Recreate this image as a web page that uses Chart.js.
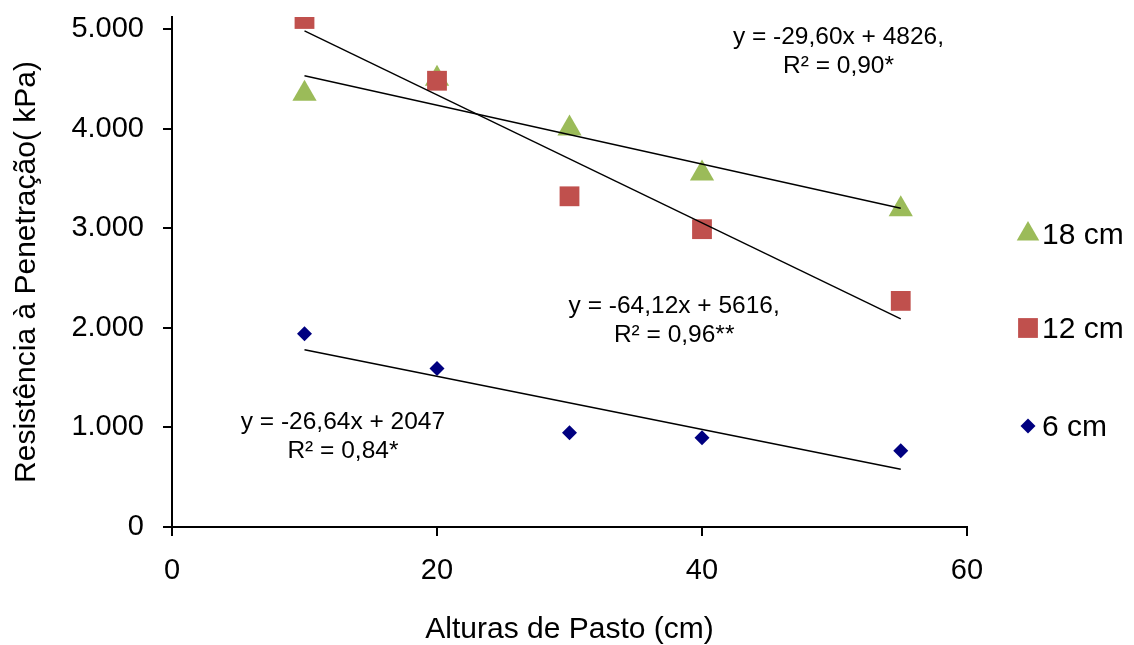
<!DOCTYPE html>
<html>
<head>
<meta charset="utf-8">
<script src="https://cdn.jsdelivr.net/npm/chart.js@4.4.0/dist/chart.umd.min.js"></script>
<style>
  html, body { margin: 0; padding: 0; background: #fff; }
  #wrap { width: 1134px; height: 645px; }
</style>
</head>
<body>
<div id="wrap"><canvas id="chart"></canvas></div>
<script>
// Values.
const alturas = [10, 20, 30, 40, 55];
const rp6 = [1940, 1590, 945, 895, 765];
const rp12 = [5100, 4480, 3320, 2990, 2270];
const rp18 = [4350, 4500, 4000, 3550, 3190];
const trendX = [10, 55];
const trend6 = [1780, 580];
const trend12 = [4980, 2090];
const trend18 = [4530, 3200];
const xTicks = [0, 20, 40, 60];
const yTicks = [0, 1000, 2000, 3000, 4000, 5000];
const equations = [
  ['y = -29,60x + 4826,', 'R² = 0,90*'],
  ['y = -64,12x + 5616,', 'R² = 0,96**'],
  ['y = -26,64x + 2047', 'R² = 0,84*'],
];

// Where the equation text sits (data coords of first line centre).
const equationAnchors = [[50.3, 4920], [37.9, 2219], [12.9, 1054]];

const FONT = '"Liberation Sans", Arial, sans-serif';
const GREEN = '#9BBB59';
const RED = '#C0504D';
const NAVY = '#000080';

const legendItems = [
  {text: '18 cm', style: 'triangle', radius: 13, color: GREEN, dy: 217},
  {text: '12 cm', style: 'rect', radius: 14, color: RED, dy: 311},
  {text: '6 cm', style: 'rectRot', radius: 7.5, color: NAVY, dy: 409},
];

const fmt = (v) => String(v).replace(/\B(?=(\d{3})+(?!\d))/g, '.');

const trendDataset = (vals) => ({
  data: trendX.map((x, i) => ({x, y: vals[i]})),
  showLine: true,
  borderColor: '#000',
  borderWidth: 1.4,
  pointRadius: 0,
  fill: false,
});

const pointDataset = (label, vals, style, radius, color) => ({
  label,
  data: alturas.map((x, i) => ({x, y: vals[i]})),
  pointStyle: style,
  pointRadius: radius,
  backgroundColor: color,
  borderColor: color,
  borderWidth: 0,
  showLine: false,
});

const equationPlugin = {
  id: 'equations',
  afterDatasetsDraw(chart) {
    const {ctx, scales: {x, y}} = chart;
    ctx.save();
    ctx.font = `24.5px ${FONT}`;
    ctx.fillStyle = '#000';
    ctx.textAlign = 'center';
    ctx.textBaseline = 'middle';
    equations.forEach((lines, i) => {
      const [ax, ay] = equationAnchors[i];
      lines.forEach((line, j) => {
        ctx.fillText(line, x.getPixelForValue(ax), y.getPixelForValue(ay) + j * 29);
      });
    });
    ctx.restore();
  },
};

const sideLegendPlugin = {
  id: 'sideLegend',
  afterDraw(chart) {
    const {ctx, chartArea} = chart;
    ctx.save();
    ctx.font = `30px ${FONT}`;
    ctx.textAlign = 'left';
    ctx.textBaseline = 'middle';
    legendItems.forEach(item => {
      const cy = chartArea.top + item.dy;
      ctx.fillStyle = item.color;
      Chart.helpers.drawPoint(ctx, {pointStyle: item.style, radius: item.radius, rotation: 0, borderWidth: 0}, chartArea.right + 61, cy);
      ctx.fillStyle = '#000';
      ctx.fillText(item.text, chartArea.right + 75, cy + 2);
    });
    ctx.restore();
  },
};

// keep the plot box where the figure has it, labels may hang over
const noScalePadding = (s) => {
  s.paddingTop = 0;
  s.paddingBottom = 0;
  s.paddingLeft = 0;
  s.paddingRight = 0;
};

const axisGrid = {drawOnChartArea: false, drawTicks: true, tickLength: 9, color: '#000', lineWidth: 2};
const axisBorder = {display: true, color: '#000', width: 2};

new Chart(document.getElementById('chart'), {
  type: 'scatter',
  data: {
    datasets: [
      trendDataset(trend6),
      trendDataset(trend12),
      trendDataset(trend18),
      pointDataset('6 cm', rp6, 'rectRot', 7.5, NAVY),
      pointDataset('12 cm', rp12, 'rect', 14, RED),
      pointDataset('18 cm', rp18, 'triangle', 14, GREEN),
    ],
  },
  options: {
    responsive: true,
    maintainAspectRatio: false,
    animation: false,
    events: [],
    layout: {padding: {left: 8, top: 17, right: 167, bottom: 0}},
    plugins: {legend: {display: false}, tooltip: {enabled: false}},
    scales: {
      x: {
        type: 'linear',
        min: 0,
        max: 60,
        afterBuildTicks: (s) => { s.ticks = xTicks.map(v => ({value: v})); },
        afterFit: (s) => { s.height = 118; noScalePadding(s); },
        grid: axisGrid,
        border: axisBorder,
        ticks: {color: '#000', font: {family: FONT, size: 29}, padding: 18, maxRotation: 0},
        title: {display: true, text: 'Alturas de Pasto (cm)', color: '#000', font: {family: FONT, size: 30, lineHeight: 1.0}, padding: 0},
      },
      y: {
        type: 'linear',
        min: 0,
        max: 5120,
        afterBuildTicks: (s) => { s.ticks = yTicks.map(v => ({value: v})); },
        afterFit: (s) => { s.width = 164; noScalePadding(s); },
        grid: axisGrid,
        border: axisBorder,
        ticks: {color: '#000', font: {family: FONT, size: 29}, padding: 19, callback: (v) => fmt(v)},
        title: {display: true, text: 'Resistência à Penetração( kPa)', color: '#000', font: {family: FONT, size: 30, lineHeight: 1.0}, padding: 4},
      },
    },
  },
  plugins: [equationPlugin, sideLegendPlugin],
});
</script>
</body>
</html>
